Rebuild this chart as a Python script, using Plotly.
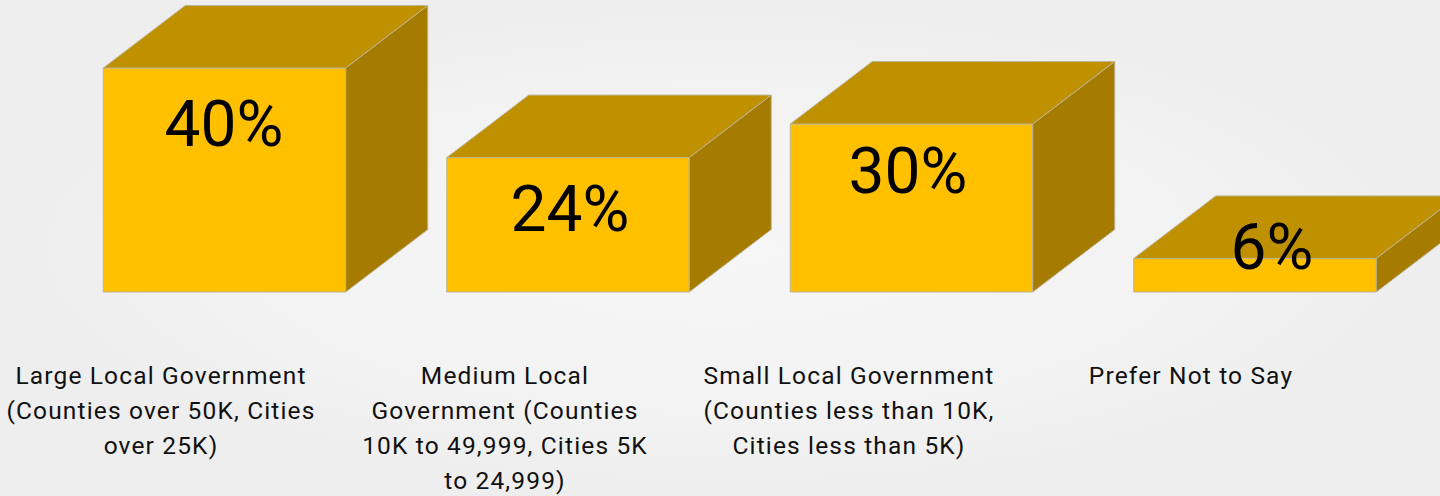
import plotly.graph_objects as go

# Data
categories = [
    ["Large Local Government", "(Counties over 50K, Cities", "over 25K)"],
    ["Medium Local", "Government (Counties", "10K to 49,999, Cities 5K", "to 24,999)"],
    ["Small Local Government", "(Counties less than 10K,", "Cities less than 5K)"],
    ["Prefer Not to Say"],
]
values = [40, 24, 30, 6]
value_labels = ["40%", "24%", "30%", "6%"]

# Geometry / style (in axis units)
W, H = 1440, 496
PITCH = 343.5          # px per category
X0 = 224.5             # px of first category centre
BASE = 292             # px of value 0
PXV = 5.6              # px per percentage point
BAR_W = 242.5 / PITCH
DX, DY = 82 / PITCH, 62.5 / PXV
FRONT, TOP, SIDE, EDGE = "#FFC000", "#BF9000", "#A67C00", "#BDB597"
label_y_px = [130, 215, 177, 253]
label_x_px = [224, 570, 908, 1272]
cat_x_px = [161, 505, 849, 1191]
cat_y_px0, cat_step_px = 378, 34.9

xmin, xmax = -X0 / PITCH, (W - X0) / PITCH
ymin, ymax = (BASE - H) / PXV, BASE / PXV
to_x = lambda p: (p - X0) / PITCH
to_y = lambda p: (BASE - p) / PXV

fig = go.Figure()

# background gradient (base axes, drawn below the overlaid chart axes)
fig.add_trace(go.Scatter(
    x=[xmin, xmax, xmax, xmin, xmin], y=[ymin, ymin, ymax, ymax, ymin],
    mode="lines", line=dict(width=0), fill="toself",
    fillgradient=dict(type="radial", colorscale=[[0, "#F6F6F6"], [0.6, "#F3F3F3"], [1, "#EEEEEE"]]),
    hoverinfo="skip", showlegend=False))

# top and side faces
for i, v in enumerate(values):
    l, r = i - BAR_W / 2, i + BAR_W / 2
    fig.add_trace(go.Scatter(
        x=[l, r, r + DX, l + DX, l], y=[v, v, v + DY, v + DY, v],
        mode="lines", fill="toself", fillcolor=TOP, line=dict(color=EDGE, width=1),
        hoverinfo="skip", showlegend=False, xaxis="x2", yaxis="y2"))
    fig.add_trace(go.Scatter(
        x=[r, r + DX, r + DX, r, r], y=[0, DY, v + DY, v, 0],
        mode="lines", fill="toself", fillcolor=SIDE, line=dict(color=EDGE, width=1),
        hoverinfo="skip", showlegend=False, xaxis="x2", yaxis="y2"))

# front faces
fig.add_trace(go.Bar(
    x=list(range(len(values))), y=values, width=BAR_W,
    marker=dict(color=FRONT, line=dict(color=EDGE, width=1)),
    hoverinfo="skip", showlegend=False, xaxis="x2", yaxis="y2"))

# value labels
fig.add_trace(go.Scatter(
    x=[to_x(p) for p in label_x_px], y=[to_y(p) for p in label_y_px],
    text=value_labels, mode="text", textposition="middle center",
    textfont=dict(family="Roboto", size=64, color="#000000"),
    hoverinfo="skip", showlegend=False, xaxis="x2", yaxis="y2"))

# category labels, one line at a time
xs, ys, ts = [], [], []
for c, lines in enumerate(categories):
    for k, line in enumerate(lines):
        xs.append(to_x(cat_x_px[c]))
        ys.append(to_y(cat_y_px0 + k * cat_step_px))
        ts.append(line)
fig.add_trace(go.Scatter(
    x=xs, y=ys, text=ts, mode="text", textposition="middle center",
    textfont=dict(family="Roboto", size=24.5, color="#111111"),
    hoverinfo="skip", showlegend=False, xaxis="x2", yaxis="y2"))

fig.update_layout(
    width=W, height=H, margin=dict(l=0, r=0, t=0, b=0),
    paper_bgcolor="#F3F3F3", plot_bgcolor="rgba(0,0,0,0)",
    xaxis=dict(range=[xmin, xmax], visible=False, fixedrange=True),
    yaxis=dict(range=[ymin, ymax], visible=False, fixedrange=True),
    xaxis2=dict(range=[xmin, xmax], visible=False, fixedrange=True, overlaying="x"),
    yaxis2=dict(range=[ymin, ymax], visible=False, fixedrange=True, overlaying="y"),
    showlegend=False,
)
fig.write_html("out.html", config={"displayModeBar": False},
               post_script=(
                   "document.body.style.margin='0';"
                   "var s=document.createElement('style');"
                   "s.textContent='.scatterlayer .trace:last-child .textpoint text{letter-spacing:1.15px}';"
                   "document.head.appendChild(s);"))
